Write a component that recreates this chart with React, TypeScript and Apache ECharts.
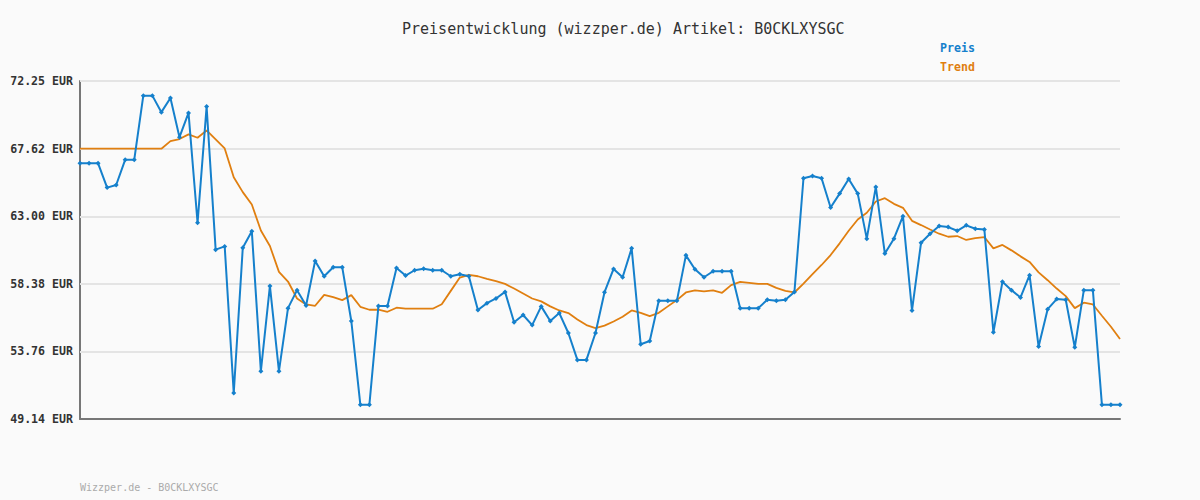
import React, { useEffect, useRef } from "react";
import * as echarts from "echarts";

const titleText = "Preisentwicklung (wizzper.de) Artikel: B0CKLXYSGC";
const footerText = "Wizzper.de - B0CKLXYSGC";
const yTicks = [49.14, 53.76, 58.38, 63.0, 67.62, 72.25];

const preis = [
  66.62, 66.62, 66.62, 64.96, 65.14, 66.87, 66.87, 71.25, 71.25, 70.12,
  71.09, 68.41, 70.07, 62.56, 70.5, 60.72, 60.94, 50.91, 60.85, 61.97,
  52.41, 58.24, 52.41, 56.72, 57.95, 56.9, 59.95, 58.9, 59.51, 59.51,
  55.84, 50.12, 50.12, 56.86, 56.86, 59.47, 58.95, 59.31, 59.42, 59.31,
  59.31, 58.9, 59.04, 58.9, 56.59, 57.06, 57.38, 57.83, 55.75, 56.25,
  55.56, 56.84, 55.84, 56.38, 55.02, 53.18, 53.18, 55.02, 57.81, 59.4,
  58.83, 60.81, 54.25, 54.47, 57.22, 57.22, 57.22, 60.33, 59.38, 58.83,
  59.24, 59.24, 59.24, 56.72, 56.72, 56.72, 57.29, 57.22, 57.29, 57.83,
  65.6, 65.76, 65.6, 63.6, 64.55, 65.55, 64.55, 61.47, 65.01, 60.45,
  61.47, 63.01, 56.56, 61.19, 61.81, 62.33, 62.26, 62.01, 62.38, 62.15,
  62.1, 55.07, 58.52, 57.95, 57.45, 58.97, 54.09, 56.65, 57.34, 57.29,
  54.04, 57.95, 57.95, 50.12, 50.12, 50.12,
];

const trend = [
  67.62, 67.62, 67.62, 67.62, 67.62, 67.62, 67.62, 67.62, 67.62, 67.62,
  68.14, 68.28, 68.6, 68.37, 68.87, 68.26, 67.64, 65.67, 64.65, 63.81,
  62.03, 60.97, 59.2, 58.54, 57.38, 56.97, 56.88, 57.63, 57.47, 57.27,
  57.61, 56.81, 56.61, 56.61, 56.47, 56.75, 56.68, 56.68, 56.68, 56.68,
  56.99, 57.9, 58.81, 58.99, 58.9, 58.72, 58.56, 58.38, 58.06, 57.72,
  57.38, 57.18, 56.84, 56.56, 56.38, 55.95, 55.56, 55.36, 55.52, 55.81,
  56.13, 56.56, 56.4, 56.18, 56.4, 56.84, 57.27, 57.79, 57.93, 57.86,
  57.93, 57.77, 58.29, 58.52, 58.45, 58.38, 58.38, 58.11, 57.9, 57.79,
  58.4, 59.04, 59.67, 60.35, 61.15, 62.01, 62.78, 63.24, 64.01, 64.24,
  63.85, 63.58, 62.69, 62.4, 62.1, 61.81, 61.6, 61.65, 61.38, 61.51,
  61.58, 60.81, 61.04, 60.67, 60.26, 59.88, 59.17, 58.63, 58.06, 57.54,
  56.72, 57.09, 56.97, 56.2, 55.45, 54.61,
];

const categories = preis.map((_, i) => String(i + 1));

const MONO = "'DejaVu Sans Mono', monospace";
const BLUE = "#1580cc";
const ORANGE = "#e07f10";

export default function App() {
  const ref = useRef<HTMLDivElement>(null);
  useEffect(() => {
    document.body.style.margin = "0";
    const chart = echarts.init(ref.current!, null, { renderer: "svg" });
    chart.setOption({
      animation: false,
      backgroundColor: "#fafafa",
      title: {
        text: titleText,
        left: 397,
        top: 16,
        textStyle: { fontFamily: MONO, fontSize: 15, fontWeight: "normal", color: "#333" },
      },
      legend: {
        left: 930,
        top: 37,
        orient: "vertical",
        itemGap: 7,
        itemWidth: 0,
        itemHeight: 0,
        textStyle: { fontFamily: MONO, fontSize: 11.6, fontWeight: "bold" },
        data: [
          { name: "Preis", icon: "none", textStyle: { color: BLUE } },
          { name: "Trend", icon: "none", textStyle: { color: ORANGE } },
        ],
      },
      graphic: [
        {
          type: "text",
          left: 80,
          top: 482,
          style: { text: footerText, fontFamily: MONO, fontSize: 10, fill: "#aaa" },
        },
      ],
      grid: { left: 80, right: 80, top: 81, bottom: 81 },
      xAxis: {
        type: "category",
        data: categories,
        boundaryGap: false,
        axisLine: { lineStyle: { color: "#777", width: 2 } },
        axisTick: { show: false },
        axisLabel: { show: false },
        splitLine: { show: false },
      },
      yAxis: {
        type: "value",
        min: 49.14,
        max: 72.25,
        axisLine: { show: true, lineStyle: { color: "#777", width: 2 } },
        axisTick: { show: false, customValues: yTicks },
        axisLabel: {
          customValues: yTicks,
          formatter: (v: number) => v.toFixed(2) + " EUR",
          fontFamily: MONO,
          fontSize: 11.6,
          fontWeight: "bold",
          color: "#333",
          margin: 7,
        },
        splitLine: { show: false },
      },
      series: [
        {
          name: "Preis",
          type: "line",
          data: preis,
          symbol: "diamond",
          symbolSize: 5,
          showSymbol: true,
          lineStyle: { color: BLUE, width: 2 },
          itemStyle: { color: BLUE },
          z: 3,
          markLine: {
            silent: true,
            symbol: "none",
            label: { show: false },
            lineStyle: { color: "#e4e4e4", width: 2, type: "solid" },
            data: yTicks.slice(1).map((v) => ({ yAxis: v })),
            z: 1,
          },
        },
        {
          name: "Trend",
          type: "line",
          data: trend,
          symbol: "none",
          lineStyle: { color: ORANGE, width: 1.8 },
          itemStyle: { color: ORANGE },
          z: 2,
        },
      ],
    });
    return () => chart.dispose();
  }, []);
  return (
    <div
      ref={ref}
      style={{ position: "absolute", left: 0, top: 0, width: 1200, height: 500 }}
    />
  );
}
